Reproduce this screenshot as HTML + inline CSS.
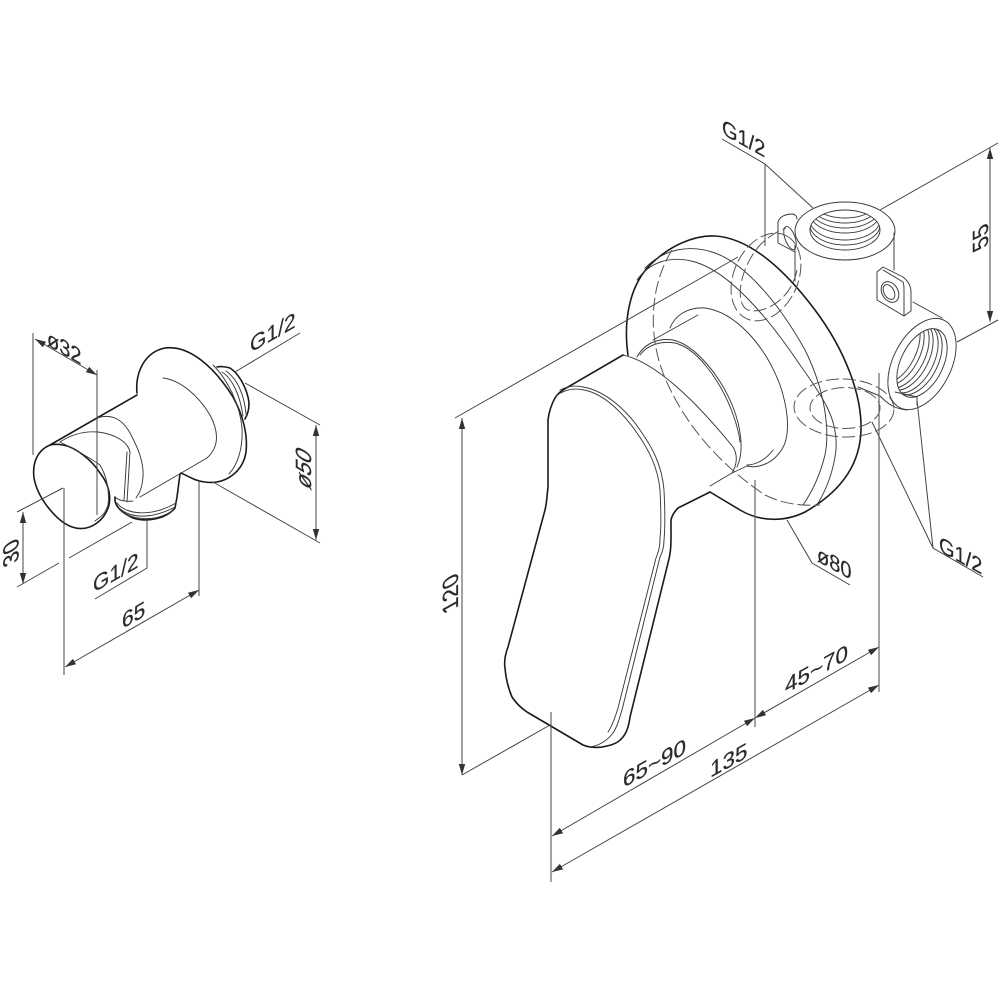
<!DOCTYPE html>
<html><head><meta charset="utf-8"><style>
html,body{margin:0;padding:0;background:#fff}
svg{display:block}
text{font-family:"Liberation Sans",sans-serif;font-size:22px;fill:#2a2a2a;stroke:#2a2a2a;stroke-width:.2}
.o{fill:none;stroke:#1a1a1a;stroke-width:1.6;stroke-linejoin:round;stroke-linecap:round}
.m{fill:none;stroke:#3a3a3a;stroke-width:.95;stroke-linejoin:round;stroke-linecap:round}
.d{fill:none;stroke:#444;stroke-width:1}
.e{fill:none;stroke:#666;stroke-width:1.2}
.dash{fill:none;stroke:#555;stroke-width:1;stroke-dasharray:13 4}
</style></head><body>
<svg width="1000" height="1000" viewBox="0 0 1000 1000" xmlns="http://www.w3.org/2000/svg">
<defs>
<marker id="a" markerUnits="userSpaceOnUse" markerWidth="12" markerHeight="8" refX="11" refY="4" orient="auto-start-reverse"><path d="M0 .8L11 4L0 7.2z" fill="#333"/></marker>
<clipPath id="c1"><ellipse cx="845" cy="230" rx="35" ry="20"/></clipPath>
<clipPath id="c2"><ellipse cx="922" cy="363" rx="37" ry="21" transform="rotate(-63 922 363)"/></clipPath>
</defs>

<!-- LEFT OBJECT -->
<path class="o" d="M137 393C135 372 145 352 165 348C190 345 215 368 233 397C243 415 248 435 246 452C243 472 225 485 205 482C195 481 188 476 181 473"/>
<path class="m" d="M213 365C228 380 240 405 242 428C243 448 238 464 229 474"/>
<path class="o" d="M137 395L50 445"/>
<path class="o" d="M50 445C38 450 32 462 34 478C38 500 58 522 72 527C90 533 105 520 109 505C112 490 104 478 100 473C92 460 75 447 63 445C58 444 54 444 50 445Z"/>
<path class="m" d="M60 442C72 448 90 458 100 465C106 475 110 490 108 505C105 515 100 517 95 521"/>
<path class="m" d="M163 378C180 380 198 395 210 415C219 432 219 447 207 458L140 497"/>
<path class="m" d="M97 418C112 413 123 420 130 433C138 448 144 462 143 477C142 488 140 492 136 498"/>
<path class="m" d="M60 442C72 434 85 431 98 432C115 434 128 442 130 452L127 502"/>
<path class="m" d="M127 452L124 500"/>
<path class="o" d="M115 497C114 505 120 512 133 518C145 522 165 520 175 508L177 497L180 474"/>
<path class="m" d="M115 497C118 500 125 502 133 501M117 503C125 514 150 518 176 503M119 508C130 518 150 520 175 507M122 512C135 520 155 522 172 511"/>
<path class="o" d="M217 367C222 366 226 367 230 368C238 373 245 385 248 397C250 405 249 412 245 419"/>
<path class="m" d="M222 372C232 378 240 395 243 416M226 371C236 378 244 392 246 414"/>
<!-- left dims -->
<g class="d">
<path d="M33 333V455M97 370V515"/>
<path d="M35 339L97 375" marker-start="url(#a)" marker-end="url(#a)"/>
<path d="M235 372L300 333M245 383L320 425M213 482L320 543"/>
<path d="M316 425V540" marker-start="url(#a)" marker-end="url(#a)"/>
<path d="M23 512V584" marker-start="url(#a)" marker-end="url(#a)"/>
<path d="M17 512L63 488M17 587L59 563M69 558L132 522"/>
<path d="M64 488V675M199 482V596"/>
<path d="M65 667L199 590" marker-start="url(#a)" marker-end="url(#a)"/>
<path d="M95 599L147 568V520"/>
</g>
<text transform="matrix(.91,.53,0,1,47,345)">ø32</text>
<text transform="matrix(.955,-.545,0,1,250,353)">G1/2</text>
<text transform="matrix(.955,-.545,0,1,93,593)">G1/2</text>
<text transform="matrix(.955,-.545,0,1,122,629)">65</text>
<text transform="matrix(0,-1,1,.55,311,491)">ø50</text>
<text transform="matrix(0,-1,1,-.55,18.500,561)">30</text>

<!-- VALVE BODY -->
<ellipse class="m" cx="845" cy="231" rx="50" ry="29"/>
<ellipse class="m" cx="845" cy="230" rx="35" ry="20"/>
<g class="m" clip-path="url(#c1)">
<ellipse cx="845" cy="198" rx="35" ry="20"/><ellipse cx="845" cy="203" rx="35" ry="20"/><ellipse cx="845" cy="208" rx="35" ry="20"/><ellipse cx="845" cy="213" rx="35" ry="20"/><ellipse cx="845" cy="220" rx="35" ry="20"/><ellipse cx="845" cy="225" rx="35" ry="20"/>
</g>
<path class="m" d="M795 245V281M894 233V270M913 302L942 318"/>
<path class="m" d="M778 222C780 216 786 214 793 214C796 215 797 217 797 219M778 222V243L795 252"/>
<ellipse class="m" cx="790" cy="238" rx="5" ry="12" transform="rotate(-20 790 238)"/>
<path class="m" d="M877 272L883 267L903 277C908 281 911 286 911 292V311L904 316L877 300ZM883 270L903 282C904 284 904 286 904 290V316"/>
<ellipse class="m" cx="890" cy="292" rx="8" ry="11" transform="rotate(-30 890 292)"/>
<ellipse class="m" cx="889" cy="292" rx="5" ry="8" transform="rotate(-30 889 292)"/>
<ellipse class="m" cx="922" cy="364" rx="49" ry="29" transform="rotate(-63 922 364)"/>
<ellipse class="m" cx="922" cy="363" rx="37" ry="21" transform="rotate(-63 922 363)"/>
<g class="m" clip-path="url(#c2)">
<ellipse cx="917" cy="360.500" rx="37" ry="21" transform="rotate(-63 917 360.500)"/>
<ellipse cx="913" cy="358.500" rx="37" ry="21" transform="rotate(-63 913 358.500)"/>
<ellipse cx="908" cy="356" rx="37" ry="21" transform="rotate(-63 908 356)"/>
<ellipse cx="904" cy="354" rx="37" ry="21" transform="rotate(-63 904 354)"/>
<ellipse cx="899" cy="351.500" rx="37" ry="21" transform="rotate(-63 899 351.500)"/>
<ellipse cx="895" cy="349.500" rx="37" ry="21" transform="rotate(-63 895 349.500)"/>
</g>
<path class="m" d="M895 392L917 397V405M858 387L880 396C888 404 895 409 907 410"/>

<!-- ROSETTE -->
<path class="o" d="M628 355C623 320 630 285 650 265C670 245 695 235 715 236C750 238 785 270 815 310C845 350 862 395 861 430C860 470 835 495 805 512C785 522 760 522 740 510L710 492"/>
<path class="m" d="M645 268C665 248 690 245 712 252C745 262 780 305 805 350C825 390 830 430 825 455C820 475 812 492 803 505"/>
<path class="m" d="M637 280C650 262 670 255 695 262C730 272 770 320 800 365C825 400 838 420 836 450C833 475 825 492 817 505"/>
<path class="m" d="M670 328C675 315 688 307 705 308C735 312 765 345 780 385C790 415 790 440 780 452C770 466 755 468 747 466L732 473"/>
<path class="m" d="M773 450C768 457 758 465 747 465"/>
<path class="m" d="M653 340L698 315"/>
<path class="m" d="M637 357C645 342 660 338 673 340C695 345 720 375 733 407C740 425 745 450 737 467"/>
<path class="m" d="M640 355C648 344 662 341 675 343C696 348 718 377 731 409C736 422 739 432 740 442"/>
<path class="m" d="M623 355C655 362 695 400 733 447C738 455 737 465 732 473"/>
<!-- HANDLE -->
<path class="o" d="M623 355L568 387C562 390 558 393 555 398C551 405 549 412 548 420V487C547 495 547 502 545 510L508 647C505 655 504 662 505 668C506 680 509 690 512 697C516 703 521 708 527 712L583 745C590 748 600 748 607 746C616 744 620 741 623 737C627 732 629 725 630 717L668 563C670 556 671 548 671 540V520C672 515 675 511 678 508L710 492"/>
<path class="m" d="M560 390C568 386 575 385 583 387C608 391 630 415 640 430C652 447 662 465 664 490C665 510 665 530 664 540C664 548 662 553 660 557L622 710C619 720 617 727 613 733C607 741 598 746 590 747"/>
<path class="m" d="M556 396C565 389 575 388 584 390C606 394 626 417 637 433C649 450 658 468 660 490C661 510 661 530 660 538C660 548 658 553 656 558L618 708C615 718 612 726 608 732"/>
<path class="m" d="M732 473L710 486"/>
<!-- hidden dashed -->
<path class="dash" d="M672 250C650 285 647 335 665 378C685 425 720 465 765 495C785 505 805 506 820 505"/>
<ellipse class="dash" cx="766" cy="277" rx="46" ry="32" transform="rotate(-65 766 277)"/>
<path class="dash" d="M797 270C792 298 765 315 748 310C735 305 738 270 760 245C770 235 780 230 786 228"/>
<ellipse class="dash" cx="844" cy="408" rx="50" ry="29" transform="rotate(2 844 408)"/>
<ellipse class="dash" cx="845" cy="408" rx="35" ry="20.500"/>

<!-- RIGHT DIMS -->
<g class="d">
<path d="M722 139L765 164L813 208M765 164V246"/>
<path d="M880 210L998 143M957 342L998 320"/>
<path d="M990 148V322" marker-start="url(#a)" marker-end="url(#a)"/>
<path d="M455 418L738 257M462 775L550 725"/>
<path d="M462 418V775" marker-start="url(#a)" marker-end="url(#a)"/>
<path d="M787 520L812 563L850 585"/>
<path d="M872 422L933 548L983 577M917 400L933 548"/>
<path d="M551 712V882"/>
<path d="M552 836L755 718" marker-start="url(#a)" marker-end="url(#a)"/>
<path d="M552 872L879 685" marker-start="url(#a)" marker-end="url(#a)"/>
<path d="M755 718L879 647" marker-start="url(#a)" marker-end="url(#a)"/>
</g>
<path class="e" d="M755 480V727M879 373V692"/>
<text transform="matrix(.91,.5,0,1,722,134)">G1/2</text>
<text transform="matrix(.91,.5,0,1,939,551)">G1/2</text>
<text transform="matrix(.91,.5,0,1,817,561)">ø80</text>
<text transform="matrix(0,-1,1,-.55,988,246)">55</text>
<text transform="matrix(0,-1,1,-.55,458,608)">120</text>
<text transform="matrix(1.02,-.565,0,1,623,788)">65~90</text>
<text transform="matrix(1.02,-.565,0,1,710,778)">135</text>
<text transform="matrix(1.02,-.565,0,1,785,694)">45~70</text>
</svg>
</body></html>
